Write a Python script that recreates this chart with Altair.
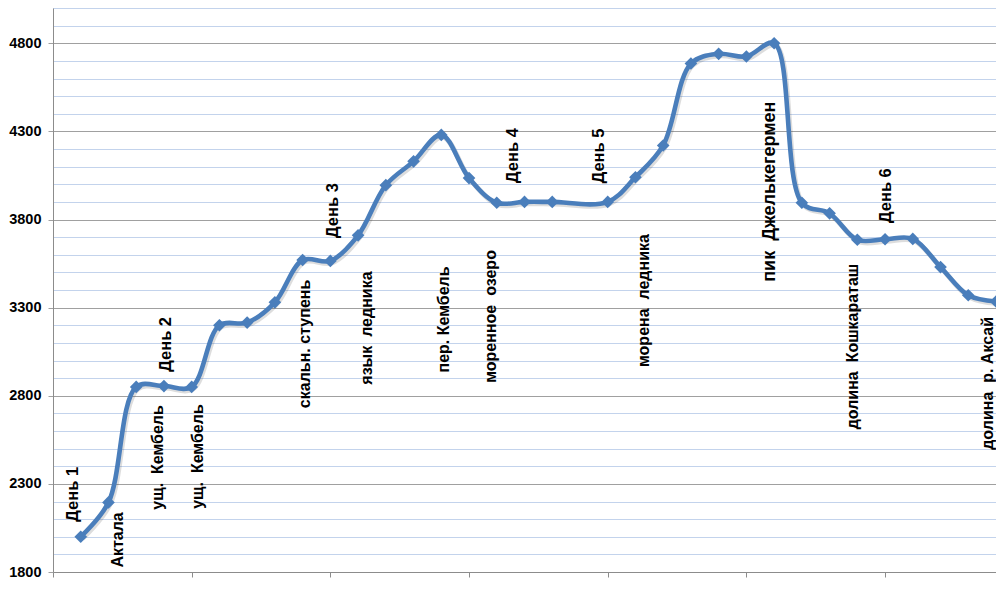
import altair as alt
import pandas as pd

# --- data ---
point_index = list(range(1, 35))
elevation = [2000, 2195, 2850, 2855, 2850, 3200, 3215, 3330, 3570, 3565,
             3710, 3995, 4130, 4280, 4035, 3895, 3900, 3900, None, 3900,
             4040, 4220, 4685, 4740, 4725, 4800, 3895, 3835, 3685, 3688,
             3690, 3530, 3370, 3335]

label_text = ["День 1", "Актала", "ущ.\u00a0 Кембель", "День 2", "ущ.\u00a0 Кембель",
              "скальн. ступень", "День 3", "язык\u00a0 ледника", "пер. Кембель",
              "моренное\u00a0 озеро", "День 4", "День 5", "морена\u00a0 ледника",
              "пик\u00a0 Джелькегермен", "долина\u00a0 Кошкараташ", "День 6",
              "долина\u00a0 р. Аксай"]
label_pos = [0.72, 2.33, 3.77, 4.06, 5.24, 9.08, 10.09, 11.31, 14.1, 15.79,
             16.58, 19.7, 21.32, 25.84, 28.86, 30.04, 33.7]
label_elev = [2240, 1982, 2450, 3091, 2455, 3094, 3850, 3184, 3233, 3250,
              4162, 4160, 3340, 3958, 3079, 3935, 2870]
label_kind = ["day" if t.startswith("День") else
              ("peak" if t.startswith("пик") else "name") for t in label_text]

y_ticks = list(range(1800, 5001, 100))
x_ticks = [0, 5, 10, 15, 20, 25, 30]

df = pd.DataFrame({"k": point_index, "elev": elevation})
lab = pd.DataFrame({"txt": label_text, "lk": label_pos, "lv": label_elev,
                    "kind": label_kind})

FONT = "Liberation Sans"
BLUE = "#4a7ebb"
MAJOR = "datum.value % 500 == 300"

xscale = alt.Scale(domain=[0, 34], nice=False, zero=False)
yscale = alt.Scale(domain=[1800, 5000], nice=False, zero=False)

xaxis = alt.Axis(values=x_ticks, tickCount=20, labels=False, grid=False, title=None,
                 tickSize=5, tickColor="#8c8c8c", domainColor="#8c8c8c")
yaxis = alt.Axis(values=y_ticks, tickCount=60, format="d", title=None,
                 labelOverlap=False,
                 labelExpr=MAJOR + " ? datum.label : ''",
                 gridColor={"condition": {"test": MAJOR, "value": "#a0a0a0"},
                            "value": "#c3d3ec"},
                 tickOpacity={"condition": {"test": MAJOR, "value": 1}, "value": 0},
                 tickSize=5, tickColor="#a0a0a0", domainColor="#8c8c8c",
                 labelFont=FONT, labelFontSize=14.5, labelFontWeight="bold",
                 labelColor="#000000", labelPadding=7)

base = alt.Chart(df).transform_filter("isValid(datum.elev)")

shadow = base.mark_line(interpolate="catmull-rom", color="#404040", opacity=0.18,
                        strokeWidth=5, xOffset=1.5, yOffset=2).encode(
    x=alt.X("k:Q", scale=xscale, axis=xaxis),
    y=alt.Y("elev:Q", scale=yscale, axis=yaxis),
)

line = base.mark_line(interpolate="catmull-rom", color=BLUE, strokeWidth=4.6).encode(
    x=alt.X("k:Q", scale=xscale),
    y=alt.Y("elev:Q", scale=yscale),
)

points = base.mark_point(shape="diamond", filled=True, size=160, color=BLUE,
                         opacity=1).encode(
    x=alt.X("k:Q", scale=xscale),
    y=alt.Y("elev:Q", scale=yscale),
)


def text_layer(kind, size):
    return alt.Chart(lab).transform_filter(f"datum.kind == '{kind}'").mark_text(
        angle=270, align="center", baseline="middle", font=FONT, fontSize=size,
        fontWeight="bold", color="#000000").encode(
        x=alt.X("lk:Q", scale=xscale),
        y=alt.Y("lv:Q", scale=yscale),
        text="txt:N",
    )


chart = alt.layer(shadow, line, points, text_layer("name", 16), text_layer("day", 16.5),
                  text_layer("peak", 18)).properties(
    width=943, height=564,
    autosize=alt.AutoSizeParams(type="none"),
    padding={"left": 45, "top": 0, "right": 0, "bottom": 10},
).configure_view(stroke="#c3d3ec")

chart.save("out.html", embed_options={"renderer": "svg", "actions": False})
